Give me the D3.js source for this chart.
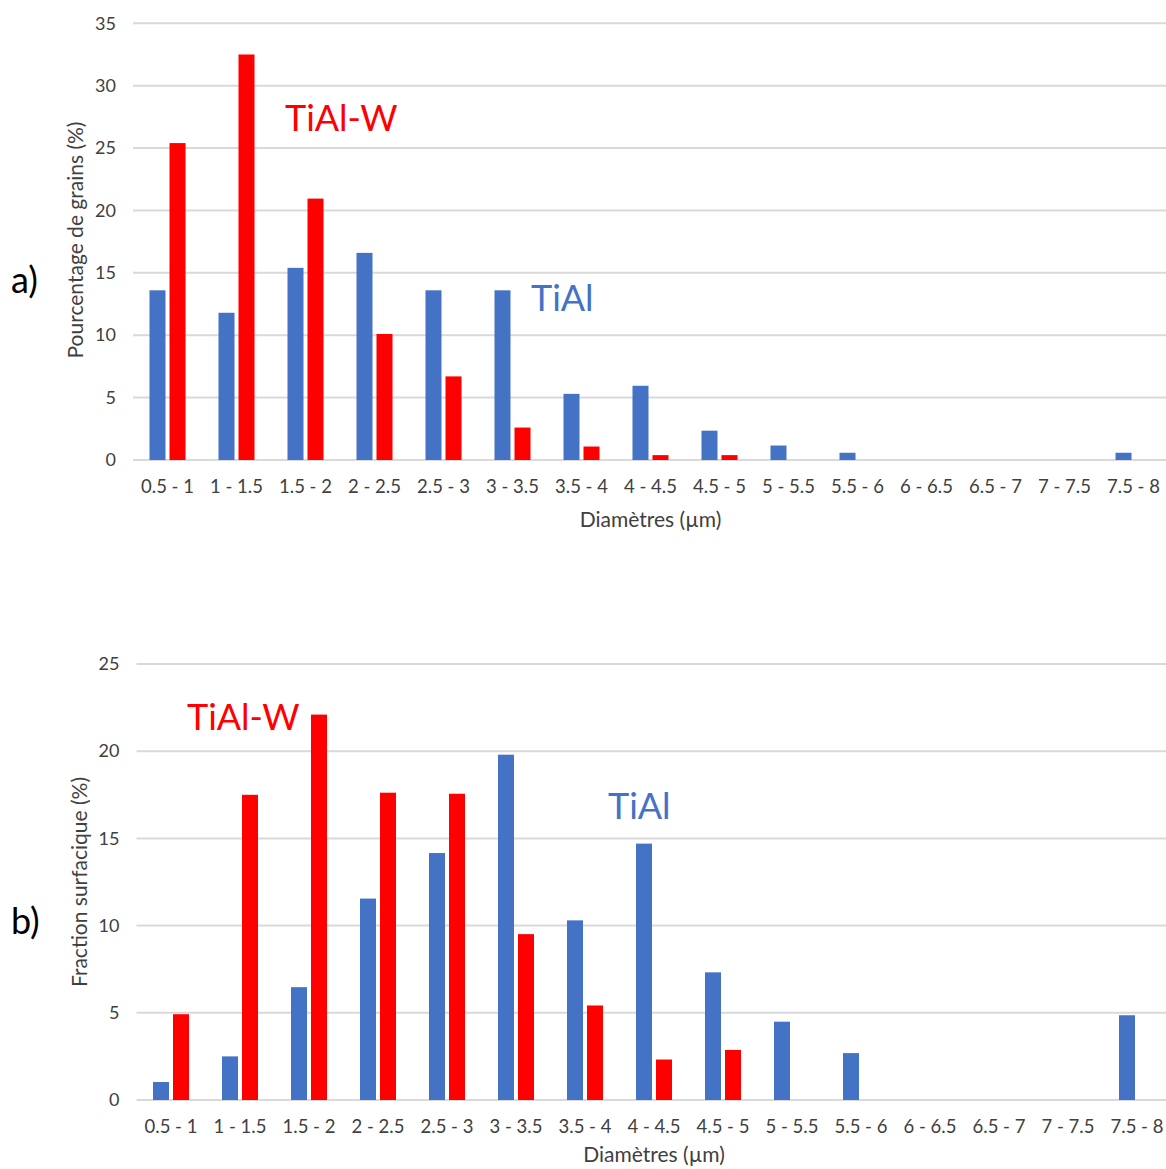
<!DOCTYPE html>
<html>
<head>
<meta charset="utf-8">
<script src="https://cdn.jsdelivr.net/npm/d3@7"></script>
<style>
  html, body { margin: 0; padding: 0; background: #ffffff; }
  svg { display: block; }
  text { font-family: Lato, "Noto Sans", sans-serif; }
</style>
</head>
<body>
<svg id="chart" width="1166" height="1169"></svg>
<script>
// ---- Data ----
const categories = ["0.5 - 1", "1 - 1.5", "1.5 - 2", "2 - 2.5", "2.5 - 3", "3 - 3.5", "3.5 - 4",
  "4 - 4.5", "4.5 - 5", "5 - 5.5", "5.5 - 6", "6 - 6.5", "6.5 - 7", "7 - 7.5", "7.5 - 8"];
const seriesNames = ["TiAl", "TiAl-W"];
const seriesColors = ["#4472C4", "#FF0000"];

// a) Pourcentage de grains (%)
const grainsTiAl  = [13.6, 11.8, 15.4, 16.6, 13.6, 13.6, 5.3, 5.95, 2.35, 1.16, 0.58, 0, 0, 0, 0.58];
const grainsTiAlW = [25.4, 32.5, 20.95, 10.1, 6.7, 2.6, 1.08, 0.39, 0.39, 0, 0, 0, 0, 0, 0];
const yTicksA = [0, 5, 10, 15, 20, 25, 30, 35];

// b) Fraction surfacique (%)
const surfTiAl  = [1.03, 2.5, 6.47, 11.55, 14.16, 19.8, 10.3, 14.7, 7.32, 4.49, 2.69, 0, 0, 0, 4.86];
const surfTiAlW = [4.92, 17.5, 22.1, 17.62, 17.56, 9.51, 5.42, 2.32, 2.87, 0, 0, 0, 0, 0, 0];
const yTicksB = [0, 5, 10, 15, 20, 25];

const svg = d3.select("#chart");
svg.append("rect").attr("width", 1166).attr("height", 1169).attr("fill", "#fff");

function drawPanel(cfg) {
  const g = svg.append("g");
  const x0 = d3.scaleBand().domain(categories).range([cfg.left, cfg.right]).paddingInner(0.478).paddingOuter(0.239);
  const x1 = d3.scaleBand().domain([0, 1]).range([0, x0.bandwidth()]).paddingInner(0.2);
  const y = d3.scaleLinear().domain([0, cfg.yMax]).range([cfg.bottom, cfg.top]);

  // gridlines
  g.append("g").selectAll("line").data(cfg.ticks).join("line")
    .attr("x1", cfg.left).attr("x2", 1166)
    .attr("y1", d => y(d)).attr("y2", d => y(d))
    .attr("stroke", "#d9d9d9").attr("stroke-width", 2);

  // y axis labels
  const yAxis = d3.axisLeft(y).tickValues(cfg.ticks).tickSize(0).tickPadding(0);
  const ya = g.append("g").attr("transform", `translate(${cfg.left - 17},0)`).call(yAxis);
  ya.select(".domain").remove();
  ya.selectAll("text").attr("fill", "#404040").style("font-size", "18px").style("font-family", "Lato, sans-serif");

  // bars
  const data = categories.map((c, i) => ({ c, vals: [cfg.s0[i], cfg.s1[i]] }));
  const groups = g.append("g").selectAll("g").data(data).join("g")
    .attr("transform", d => `translate(${x0(d.c)},0)`);
  groups.selectAll("rect").data(d => d.vals.map((v, k) => ({ v, k }))).join("rect")
    .attr("x", d => x1(d.k)).attr("width", x1.bandwidth())
    .attr("y", d => y(d.v)).attr("height", d => y(0) - y(d.v))
    .attr("fill", d => seriesColors[d.k]);

  // x axis labels
  const xAxis = d3.axisBottom(x0).tickSize(0).tickPadding(0);
  const xa = g.append("g").attr("transform", `translate(0,${cfg.bottom + 20})`).call(xAxis);
  xa.select(".domain").remove();
  xa.selectAll("text").attr("fill", "#404040").style("font-size", "18.5px").style("font-family", "Lato, sans-serif")
    .attr("dy", "0.71em");

  // axis titles
  g.append("text").attr("x", (cfg.left + cfg.right) / 2).attr("y", cfg.xTitleY)
    .attr("text-anchor", "middle").attr("fill", "#404040").style("font-size", "21px")
    .text("Diamètres (µm)");
  g.append("text").attr("transform", `translate(${cfg.yTitleX},${cfg.yTitleY}) rotate(-90)`)
    .attr("text-anchor", "middle").attr("dominant-baseline", "central").attr("fill", "#404040")
    .style("font-size", "21px").text(cfg.yTitle);

  // annotations
  cfg.notes.forEach(n => {
    g.append("text").attr("x", n.x).attr("y", n.y).attr("fill", seriesColors[n.k])
      .style("font-size", "36px").text(seriesNames[n.k]);
  });
  g.append("text").attr("x", 11).attr("y", cfg.panelY).attr("fill", "#000")
    .style("font-size", "36px").text(cfg.panel);
}

drawPanel({
  left: 133, right: 1168, top: 23.3, bottom: 460, yMax: 35, ticks: yTicksA,
  s0: grainsTiAl, s1: grainsTiAlW,
  yTitle: "Pourcentage de grains (%)", yTitleX: 74, yTitleY: 240, xTitleY: 527,
  notes: [{ k: 1, x: 285, y: 131 }, { k: 0, x: 531, y: 311 }],
  panel: "a)", panelY: 293
});

drawPanel({
  left: 136.5, right: 1171.5, top: 664, bottom: 1100, yMax: 25, ticks: yTicksB,
  s0: surfTiAl, s1: surfTiAlW,
  yTitle: "Fraction surfacique (%)", yTitleX: 78, yTitleY: 882, xTitleY: 1162,
  notes: [{ k: 1, x: 187, y: 730 }, { k: 0, x: 608, y: 819 }],
  panel: "b)", panelY: 934
});
</script>
</body>
</html>
